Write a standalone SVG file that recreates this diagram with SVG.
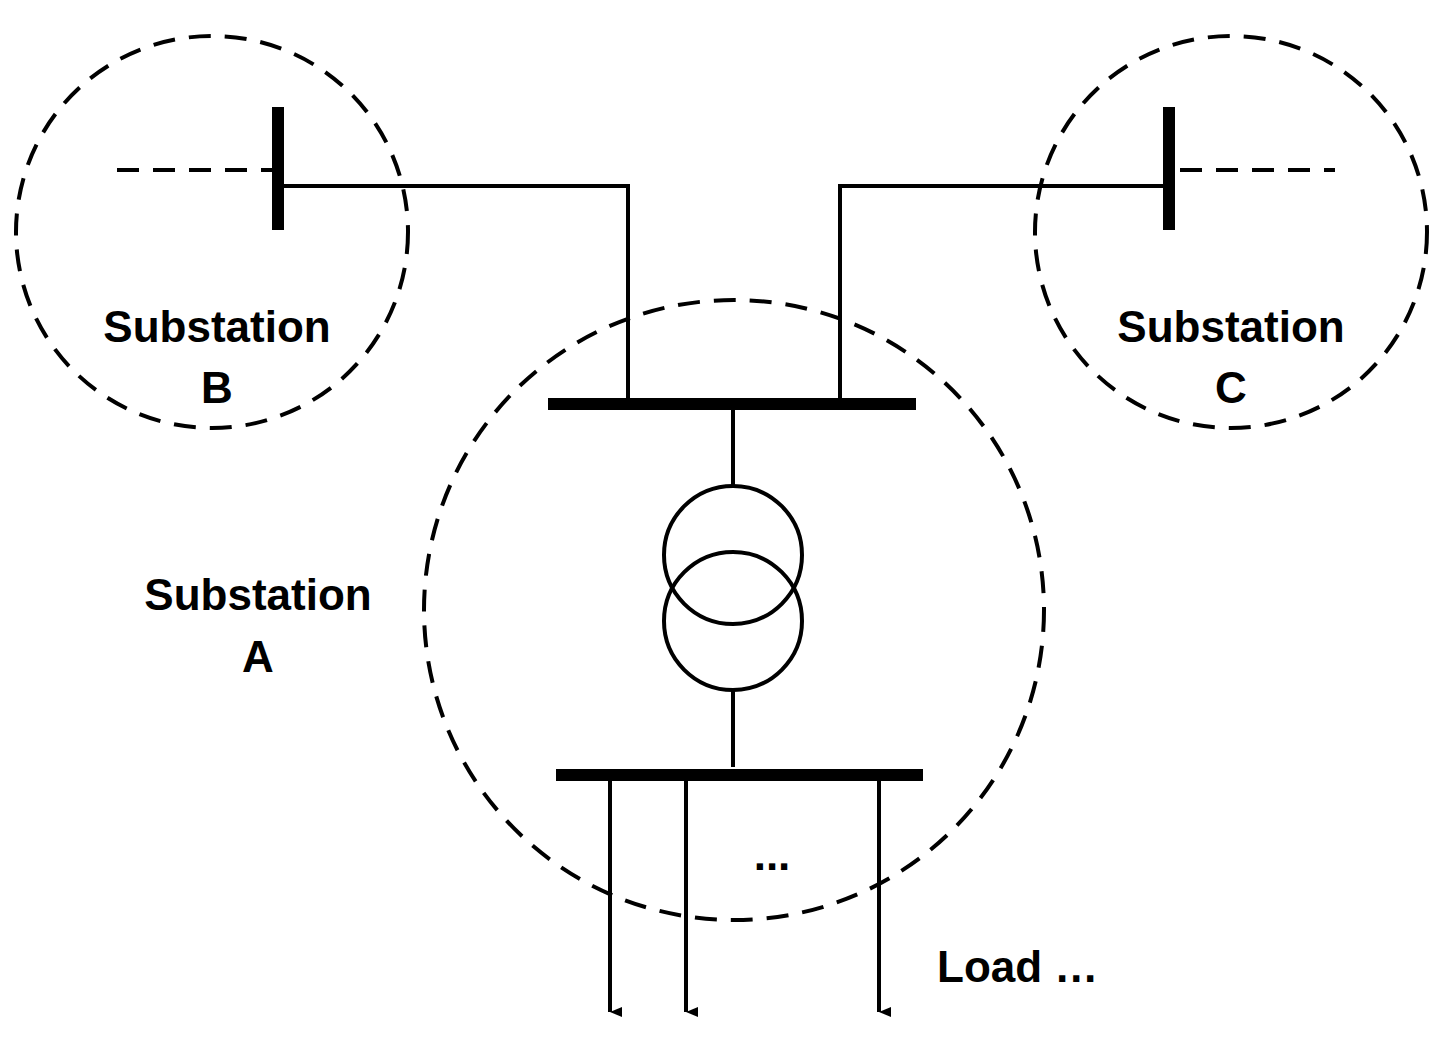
<svg xmlns="http://www.w3.org/2000/svg" width="1450" height="1043" viewBox="0 0 1450 1043">
<style>
.dc{fill:none;stroke:#000;stroke-width:4;stroke-dasharray:22 14}
.ln{fill:none;stroke:#000;stroke-width:4}
.bus{stroke:#000;stroke-width:12}
.t{font-family:"Liberation Sans",Arial,sans-serif;font-weight:bold;font-size:44px;text-anchor:middle;fill:#000}
</style>
<defs><marker id="ah" markerWidth="10" markerHeight="12" refX="5" refY="12" orient="auto" markerUnits="userSpaceOnUse" viewBox="0 0 10 12"><path d="M0,0 L10,0 L5,12 Z" fill="#000"/></marker></defs>
<rect width="1450" height="1043" fill="#fff"/>
<g id="substationB">
<circle class="dc" cx="212" cy="232" r="196"/>
<line class="bus" x1="278" y1="107" x2="278" y2="230"/>
<line class="dc" x1="117" y1="170" x2="272" y2="170"/>
<text class="t" x="217" y="342">Substation</text>
<text class="t" x="217" y="403">B</text>
</g>
<g id="substationC">
<circle class="dc" cx="1231" cy="232" r="196"/>
<line class="bus" x1="1169" y1="107" x2="1169" y2="230"/>
<line class="dc" x1="1180" y1="170" x2="1335" y2="170"/>
<text class="t" x="1231" y="342">Substation</text>
<text class="t" x="1231" y="403">C</text>
</g>
<g id="substationA">
<circle class="dc" cx="734" cy="610" r="310"/>
<line class="bus" x1="548" y1="404" x2="916" y2="404"/>
<circle class="ln" cx="733" cy="555" r="69"/>
<circle class="ln" cx="733" cy="621" r="69"/>
<line class="bus" x1="556" y1="775" x2="923" y2="775"/>
<text class="t" x="258" y="610">Substation</text>
<text class="t" x="258" y="672">A</text>
<text class="t" x="772" y="870">...</text>
</g>
<g id="connectors">
<polyline class="ln" points="284,186 628,186 628,400"/>
<polyline class="ln" points="1163,186 840,186 840,400"/>
<line class="ln" x1="733" y1="404" x2="733" y2="487"/>
<line class="ln" x1="733" y1="690" x2="733" y2="767"/>
<line class="ln" x1="610" y1="775" x2="610" y2="1012" marker-end="url(#ah)"/>
<line class="ln" x1="686" y1="775" x2="686" y2="1012" marker-end="url(#ah)"/>
<line class="ln" x1="879" y1="775" x2="879" y2="1012" marker-end="url(#ah)"/>
</g>
<text class="t" x="937" y="982" style="text-anchor:start">Load …</text>
</svg>
